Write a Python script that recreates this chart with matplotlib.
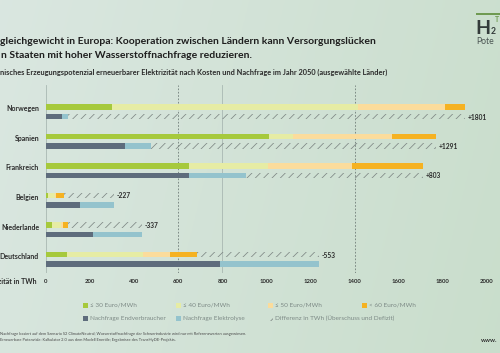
import numpy as np
import matplotlib
matplotlib.use("Agg")
import matplotlib.pyplot as plt
from matplotlib.patches import Rectangle

# ---------------- data ----------------
countries = ["Norwegen", "Spanien", "Frankreich", "Belgien", "Niederlande", "Deutschland"]
cost_le30 = [300, 1012, 650, 10, 25, 94]
cost_le40 = [1115, 108, 357, 30, 45, 346]
cost_le50 = [395, 450, 382, 5, 8, 122]
cost_lt60 = [90, 197, 322, 38, 22, 123]
demand_end = [73, 357, 648, 154, 213, 789]
demand_elec = [26, 119, 260, 156, 224, 449]
xticks = [0, 200, 400, 600, 800, 1000, 1200, 1400, 1600, 1800, 2000]

cost_labels = ["≤ 30 Euro/MWh", "≤ 40 Euro/MWh", "≤ 50 Euro/MWh", "< 60 Euro/MWh"]
demand_labels = ["Nachfrage Endverbraucher", "Nachfrage Elektrolyse",
                 "Differenz in TWh (Überschuss und Defizit)"]

# ---------------- style ----------------
C_COST = ["#a6c93c", "#e6eca4", "#fbdc9c", "#f5b222"]
C_DEM = ["#5e6c7c", "#94c3cd"]
HATCH_C = "#7e8784"
TXT = "#2b2b2b"
FONT = ["Lato", "DejaVu Sans"]
plt.rcParams["font.family"] = FONT
plt.rcParams["hatch.linewidth"] = 0.55

W, H = 500, 353
fig = plt.figure(figsize=(W / 100, H / 100), dpi=100)

# background gradient
bg = fig.add_axes([0, 0, 1, 1], zorder=-10)
gx = np.linspace(0, 1, 200)[None, :]
gy = np.linspace(0, 1, 140)[:, None]
c_left = np.array([0.855, 0.905, 0.880])
c_right = np.array([0.790, 0.870, 0.800])
t = np.clip(gx * 0.85 + gy * 0.15, 0, 1)[..., None]
img = c_left * (1 - t) + c_right * t
bg.imshow(img, aspect="auto", extent=[0, 1, 0, 1], origin="upper")
bg.set_xlim(0, 1); bg.set_ylim(0, 1)
bg.axis("off")

def fx(px):
    return px / W

def fy(py):
    return 1 - py / H

# main axes: data y equals pixel rows
x0p, x1p = 46, 487
y_top, y_bot = 85, 273
ax = fig.add_axes([fx(x0p), fy(y_bot), fx(x1p - x0p), (y_bot - y_top) / H])
ax.set_facecolor("none")
ax.set_xlim(0, 2000)
ax.set_ylim(y_bot, y_top)
for s in ax.spines.values():
    s.set_visible(False)
ax.set_yticks([])
ax.set_xticks(xticks)
ax.set_xticklabels([str(v) for v in xticks], fontsize=4.3, fontweight="bold", color=TXT)
ax.tick_params(axis="x", length=0, pad=4.5)

# vertical guide lines
for v in [0, 800, 2000]:
    ax.axvline(v, color="#a9b8b2", lw=0.6, zorder=0)
for v in [600, 1400]:
    ax.axvline(v, color="#6f7c78", lw=0.6, ls=(0, (2, 2)), zorder=0)

row0, step, sub, bh = 107, 29.5, 9.5, 5.4
cost = np.array([cost_le30, cost_le40, cost_le50, cost_lt60], dtype=float)
dem = np.array([demand_end, demand_elec], dtype=float)

for i, name in enumerate(countries):
    yt = row0 + step * i
    yd = yt + sub
    left = 0
    for k in range(4):
        ax.barh(yt, cost[k, i], left=left, height=bh, color=C_COST[k], lw=0, zorder=2)
        left += cost[k, i]
    supply = left
    left = 0
    for k in range(2):
        ax.barh(yd, dem[k, i], left=left, height=bh, color=C_DEM[k], lw=0, zorder=2)
        left += dem[k, i]
    demand = left
    diff = supply - demand
    if diff >= 0:
        hy, a, b = yd, demand, supply
        lab = f"+{diff:.0f}"
    else:
        hy, a, b = yt, supply, demand
        lab = f"{diff:.0f}"
    ax.barh(hy, b - a, left=a, height=bh, facecolor="none", edgecolor=HATCH_C,
            lw=0, hatch="////", zorder=2)
    ax.text(b + 12, hy + 0.5, lab, fontsize=4.8, fontweight="bold", color=TXT,
            va="center", ha="left")
    fig.text(fx(39), fy(yt + 2), name, fontsize=5.0, fontweight="bold", color=TXT,
             ha="right", va="center")

fig.text(fx(37), fy(281), "zität in TWh", fontsize=5.0, fontweight="bold", color=TXT,
         ha="right", va="center")

# titles
fig.text(fx(0), fy(42), "gleichgewicht in Europa: Kooperation zwischen Ländern kann Versorgungslücken",
         fontsize=7.5, fontweight="bold", color="#1e1e1e", ha="left", va="center")
fig.text(fx(1), fy(56), "n Staaten mit hoher Wasserstoffnachfrage reduzieren.",
         fontsize=7.5, fontweight="bold", color="#1e1e1e", ha="left", va="center")
fig.text(fx(0), fy(72), "nisches Erzeugungspotenzial erneuerbarer Elektrizität nach Kosten und "
         "Nachfrage im Jahr 2050 (ausgewählte Länder)",
         fontsize=5.3, fontweight="bold", color="#2a2a2a", ha="left", va="center")

# legend
LEG_C = "#7d8a86"
cols = [83, 176, 268, 362]
for k in range(4):
    fig.patches.append(Rectangle((fx(cols[k]), fy(307.5)), fx(4.5), 4.5 / H,
                                 transform=fig.transFigure, color=C_COST[k], lw=0))
    fig.text(fx(cols[k] + 7), fy(305.3), cost_labels[k], fontsize=4.6, color=LEG_C,
             ha="left", va="center")
for k in range(3):
    if k < 2:
        fig.patches.append(Rectangle((fx(cols[k]), fy(320.5)), fx(4.5), 4.5 / H,
                                     transform=fig.transFigure, color=C_DEM[k], lw=0))
    else:
        fig.patches.append(Rectangle((fx(cols[k]), fy(320.5)), fx(4.5), 4.5 / H,
                                     transform=fig.transFigure, facecolor="none",
                                     edgecolor=HATCH_C, lw=0, hatch="////"))
    fig.text(fx(cols[k] + 7), fy(318.3), demand_labels[k], fontsize=4.6, color=LEG_C,
             ha="left", va="center")

# footer
fig.text(fx(0), fy(334), "Nachfrage basiert auf dem Szenario S2 ClimateNeutral; Wasserstoffnachfrage der "
         "Schwerindustrie wird nur mit Referenzwerten ausgewiesen.",
         fontsize=2.9, color="#4a4a4a", ha="left", va="center")
fig.text(fx(0), fy(340.5), "Erneuerbare Potenziale: Kalkulator 2.0 aus dem Modell Enertile; "
         "Ergebnisse des TransHyDE-Projekts.",
         fontsize=2.9, color="#4a4a4a", ha="left", va="center")
fig.text(fx(481), fy(340.5), "www.", fontsize=4.5, fontweight="bold", color="#333333",
         ha="left", va="center")

# logo (cropped)
fig.patches.append(Rectangle((fx(476), fy(15)), fx(30), 2.2 / H,
                             transform=fig.transFigure, color="#6f9a52", lw=0))
fig.text(fx(475), fy(28), "H", fontsize=14, fontweight="bold", color="#333b3a",
         ha="left", va="center")
fig.text(fx(490.5), fy(31.5), "2", fontsize=6.2, fontweight="bold", color="#333b3a",
         ha="left", va="center")
fig.text(fx(495), fy(20), "T", fontsize=5, fontweight="bold", color="#6f9a52",
         ha="left", va="center")
fig.text(fx(476), fy(41), "Pote", fontsize=6.2, color="#4b5553",
         ha="left", va="center")

fig.savefig("out.png", dpi=100)
